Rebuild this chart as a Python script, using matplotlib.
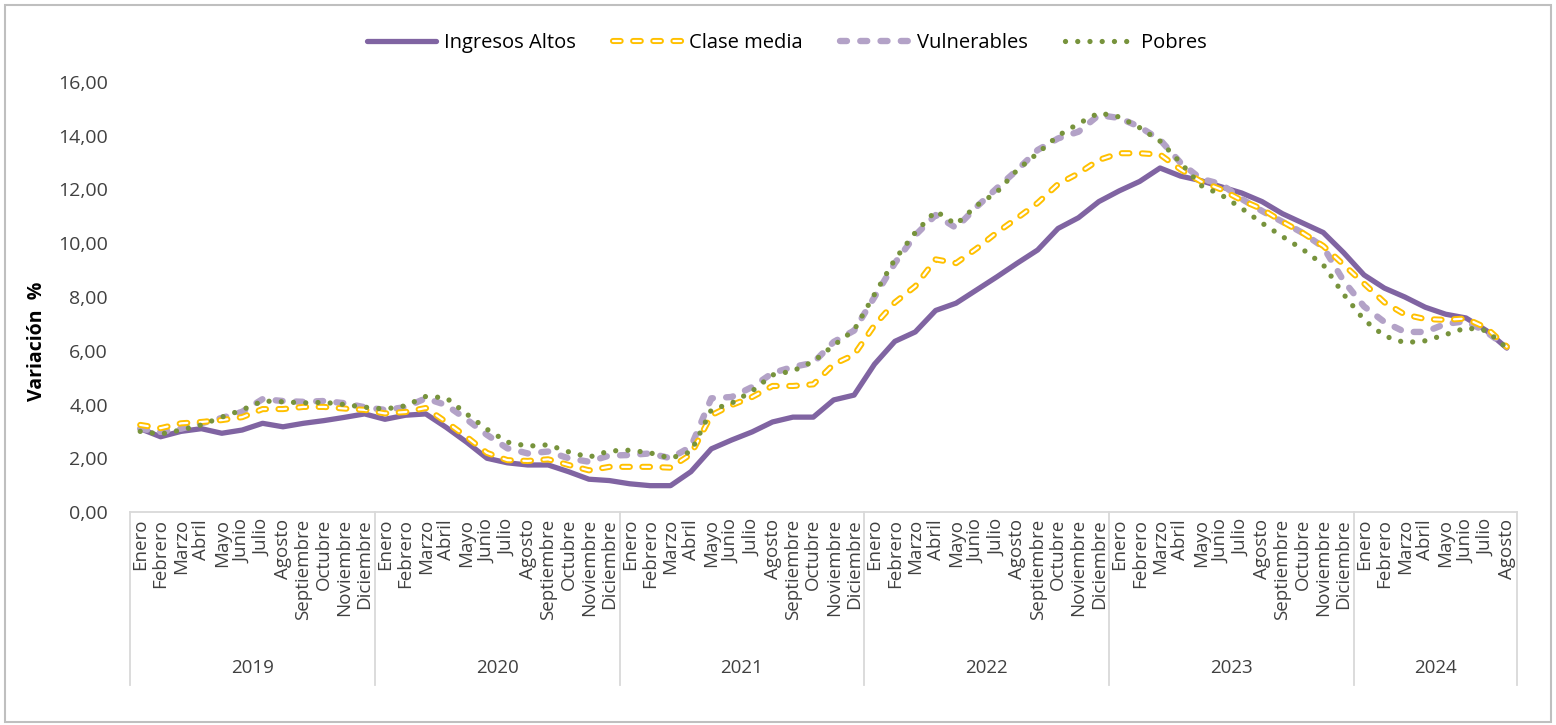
import matplotlib
matplotlib.use("Agg")
import matplotlib.pyplot as plt
from matplotlib.patches import Rectangle
from matplotlib.transforms import blended_transform_factory

plt.rcParams['font.family'] = ['Open Sans', 'DejaVu Sans']
plt.rcParams['lines.scale_dashes'] = False

years = ["2019", "2020", "2021", "2022", "2023", "2024"]
months = ["Enero", "Febrero", "Marzo", "Abril", "Mayo", "Junio", "Julio",
          "Agosto", "Septiembre", "Octubre", "Noviembre", "Diciembre"]
months_per_year = [12, 12, 12, 12, 12, 8]

ingresos_altos = [3.10, 2.80, 3.00, 3.10, 2.93, 3.05, 3.30, 3.17, 3.30, 3.40, 3.52, 3.65,
                  3.45, 3.60, 3.65, 3.15, 2.60, 2.00, 1.83, 1.75, 1.75, 1.50, 1.22, 1.17,
                  1.05, 0.98, 0.98, 1.50, 2.35, 2.68, 2.98, 3.35, 3.53, 3.53, 4.17, 4.35,
                  5.50, 6.35, 6.70, 7.50, 7.77, 8.26, 8.75, 9.26, 9.75, 10.55, 10.95, 11.55,
                  11.95, 12.30, 12.80, 12.50, 12.33, 12.10, 11.87, 11.55, 11.10, 10.75, 10.40, 9.65,
                  8.82, 8.33, 8.00, 7.62, 7.36, 7.22, 6.75, 6.10]
clase_media = [3.24, 3.12, 3.30, 3.35, 3.42, 3.53, 3.83, 3.83, 3.91, 3.91, 3.85, 3.80,
               3.67, 3.72, 3.87, 3.35, 2.80, 2.20, 1.93, 1.90, 1.96, 1.75, 1.55, 1.68,
               1.68, 1.68, 1.65, 2.15, 3.60, 3.98, 4.28, 4.69, 4.69, 4.75, 5.50, 5.85,
               6.95, 7.80, 8.40, 9.40, 9.26, 9.80, 10.40, 10.94, 11.50, 12.20, 12.60, 13.10,
               13.35, 13.35, 13.30, 12.75, 12.30, 12.00, 11.60, 11.27, 10.80, 10.38, 9.90, 9.20,
               8.50, 7.80, 7.35, 7.18, 7.15, 7.20, 6.85, 6.15]
vulnerables = [3.10, 2.98, 3.10, 3.30, 3.50, 3.73, 4.20, 4.13, 4.10, 4.13, 4.05, 3.90,
               3.80, 3.90, 4.23, 3.98, 3.45, 2.87, 2.37, 2.18, 2.25, 2.00, 1.87, 2.10,
               2.12, 2.18, 2.00, 2.43, 4.23, 4.28, 4.65, 5.17, 5.40, 5.55, 6.33, 6.75,
               8.00, 9.26, 10.30, 11.05, 10.57, 11.35, 12.05, 12.73, 13.47, 13.90, 14.15, 14.77,
               14.66, 14.33, 13.85, 13.00, 12.40, 12.20, 11.65, 11.20, 10.80, 10.38, 9.86, 8.60,
               7.65, 7.07, 6.70, 6.70, 7.00, 7.10, 6.70, 6.15]
pobres = [3.00, 2.90, 3.05, 3.24, 3.53, 3.80, 4.13, 4.10, 4.06, 4.08, 4.00, 3.90,
          3.83, 3.95, 4.30, 4.25, 3.65, 3.08, 2.60, 2.45, 2.50, 2.24, 2.04, 2.27,
          2.30, 2.20, 2.00, 2.24, 3.80, 4.05, 4.50, 5.10, 5.25, 5.60, 6.20, 6.77,
          8.10, 9.40, 10.40, 11.20, 10.70, 11.40, 11.90, 12.73, 13.35, 14.00, 14.45, 14.85,
          14.70, 14.30, 13.80, 13.00, 12.15, 11.80, 11.30, 10.75, 10.25, 9.77, 9.20, 8.10,
          7.15, 6.55, 6.30, 6.37, 6.60, 6.85, 6.75, 6.10]

month_labels = []
for n in months_per_year:
    month_labels += months[:n]
x = list(range(len(month_labels)))

text_color = '#404040'
fig = plt.figure(figsize=(15.56, 7.25), dpi=100)
ax = fig.add_axes([130 / 1556, 1 - 512 / 725, (1517 - 130) / 1556, (512 - 82) / 725])

l_altos, = ax.plot(x, ingresos_altos, color='#8064a2', lw=3.8,
                   solid_capstyle='round', solid_joinstyle='round', zorder=3)
l_vuln, = ax.plot(x, vulnerables, color='#b3a2c7', lw=4.6, dashes=(5, 9.6),
                  dash_capstyle='round', dash_joinstyle='round', zorder=4)
l_media_out, = ax.plot(x, clase_media, color='#ffc000', lw=4.4, dashes=(5.5, 9.0),
                       dash_capstyle='round', dash_joinstyle='round', zorder=5)
l_media_in, = ax.plot(x, clase_media, color='white', lw=1.6, dashes=(5.5, 9.0),
                      dash_capstyle='round', dash_joinstyle='round', zorder=6)
l_pobres, = ax.plot(x, pobres, color='#77933c', lw=3.8, dashes=(0.01, 8.8),
                    dash_capstyle='round', zorder=7)

ax.set_xlim(-0.5, len(x) - 0.5)
ax.set_ylim(0, 16)
ax.set_yticks(range(0, 17, 2))
ax.set_yticklabels([f"{v},00" for v in range(0, 17, 2)], fontsize=14, color=text_color)
ax.set_xticks(x)
ax.set_xticklabels(month_labels, rotation=90, fontsize=13.5, color=text_color,
                   va='top', ha='center')
ax.tick_params(axis='both', length=0)
ax.tick_params(axis='x', pad=5)
ax.tick_params(axis='y', pad=16)
for s in ['top', 'right', 'left']:
    ax.spines[s].set_visible(False)
ax.spines['bottom'].set_color('#d9d9d9')
ax.spines['bottom'].set_linewidth(1.3)

ax.set_ylabel("Variación  %", fontsize=14, fontweight='bold', color='black')
ax.yaxis.set_label_coords((47 - 130) / 1387, (512 - 341) / 430)

# year groups under the month labels
trans = blended_transform_factory(ax.transData, ax.transAxes)
edges = [-0.5]
for n in months_per_year:
    edges.append(edges[-1] + n)
for e in edges:
    ax.plot([e, e], [0, -0.402], transform=trans, color='#d9d9d9', lw=1.3, clip_on=False)
for yr, a, b in zip(years, edges[:-1], edges[1:]):
    ax.text((a + b) / 2, -0.363, yr, transform=trans, ha='center', va='center',
            fontsize=13.5, color=text_color)

fig.legend([l_altos, (l_media_out, l_media_in), l_vuln, l_pobres],
           ["Ingresos Altos", "Clase media", "Vulnerables", "Pobres"],
           loc='center', bbox_to_anchor=(787 / 1556, 1 - 43 / 725), ncol=4,
           frameon=False, fontsize=14.5, handlelength=3.45, columnspacing=1.85,
           handletextpad=0.35, labelcolor='black')

fig.patches.append(Rectangle((5 / 1556, 3 / 725), 1546 / 1556, 717 / 725,
                             transform=fig.transFigure, fill=False,
                             edgecolor='#bfbfbf', lw=1.5))

fig.savefig("out.png", dpi=100)
